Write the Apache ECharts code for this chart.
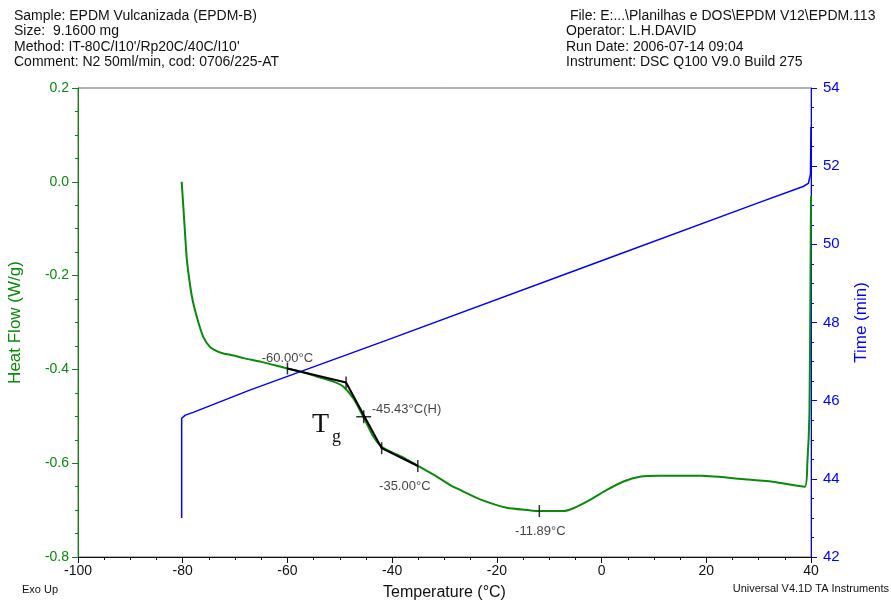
<!DOCTYPE html>
<html>
<head>
<meta charset="utf-8">
<script src="https://cdn.jsdelivr.net/npm/echarts@6/dist/echarts.min.js"></script>
<style>
  html, body { margin: 0; padding: 0; background: #fff; }
  #chart { width: 891px; height: 600px; }
</style>
</head>
<body>
<div id="chart"></div>
<script>
// temperature (°C) vs heat flow (W/g)
var heatFlow = [
  [-80.2, 0.0], [-79.9, -0.05], [-79.5, -0.12], [-79.2, -0.167], [-78.6, -0.22],
  [-78.0, -0.258], [-77.0, -0.300], [-76.1, -0.330], [-74.8, -0.352], [-73.5, -0.361],
  [-72.2, -0.366], [-70.0, -0.371], [-68.4, -0.376], [-65.0, -0.384], [-61.4, -0.394],
  [-60.0, -0.398], [-57.0, -0.406], [-54.4, -0.415], [-51.2, -0.426], [-49.3, -0.437],
  [-47.4, -0.462], [-45.5, -0.501], [-43.6, -0.543], [-42.0, -0.565], [-40.4, -0.575],
  [-38.0, -0.587], [-35.3, -0.604], [-32.0, -0.625], [-29.0, -0.646], [-27.0, -0.657],
  [-23.2, -0.677], [-18.1, -0.695], [-14.0, -0.700], [-11.8, -0.702], [-7.3, -0.702],
  [-5.4, -0.696], [-2.2, -0.678], [1.0, -0.657], [4.2, -0.639], [7.3, -0.629],
  [11.0, -0.627], [19.0, -0.627], [28.0, -0.635], [33.0, -0.640], [38.8, -0.650],
  [39.3, -0.600], [39.7, -0.493], [39.9, -0.209], [40.0, -0.030]
];
// temperature (°C) vs time (min)
var timeCurve = [
  [-80.2, 43.0], [-80.2, 45.55], [-79.5, 45.63], [-78.0, 45.70], [-67.2, 46.27],
  [-41.0, 47.55], [0.0, 49.58], [30.3, 51.08], [38.5, 51.48], [39.5, 51.56],
  [39.9, 51.8], [40.0, 53.0]
];
// glass transition construction
var tangentLine = [[-60.0, -0.398], [-48.8, -0.428], [-42.0, -0.568], [-35.1, -0.606]];
var tickMarks = [[-60.0, -0.398], [-48.8, -0.428], [-42.0, -0.568], [-35.1, -0.606], [-11.89, -0.702]];
var midPoint = [[-45.43, -0.501]];
var markLabels = [
  { value: [-60.0, -0.398], text: '-60.00°C', pos: 'top', off: [0, 1] },
  { value: [-45.43, -0.501], text: '-45.43°C(H)', pos: 'right', off: [3, -7] },
  { value: [-35.1, -0.606], text: '-35.00°C', pos: 'bottom', off: [-13, 9] },
  { value: [-11.89, -0.702], text: '-11.89°C', pos: 'bottom', off: [1, 9] }
];

var xTicks = { min: -100, max: 40, step: 20 };
var hfTicks = { min: -0.8, max: 0.2, step: 0.2 };
var timeTicks = { min: 42, max: 54, step: 2 };

var leftText = [
  'Sample: EPDM Vulcanizada (EPDM-B)',
  'Size:  9.1600 mg',
  "Method: IT-80C/I10'/Rp20C/40C/I10'",
  'Comment: N2 50ml/min, cod: 0706/225-AT'
];
var rightText = [
  ' File: E:...\\Planilhas e DOS\\EPDM V12\\EPDM.113',
  'Operator: L.H.DAVID',
  'Run Date: 2006-07-14 09:04',
  'Instrument: DSC Q100 V9.0 Build 275'
];

var GREEN = '#0a8a0a';
var BLUE = '#0000ff';
var FONT = 'Liberation Sans, Arial, sans-serif';

var myChart = echarts.init(document.getElementById('chart'));

var option = {
  backgroundColor: '#fff',
  animation: false,
  textStyle: { fontFamily: FONT },
  grid: {
    left: 78, right: 80, top: 88, bottom: 43, outerBoundsMode: 'none',
    show: true, borderColor: '#666', borderWidth: 1
  },
  graphic: [
    { type: 'text', left: 14, top: 8, style: { text: leftText.join('\n'), font: '14px ' + FONT, fill: '#111', lineHeight: 15.6 } },
    { type: 'text', left: 566, top: 8, style: { text: rightText.join('\n'), font: '14px ' + FONT, fill: '#111', lineHeight: 15.6 } },
    { type: 'text', left: 22, top: 584, style: { text: 'Exo Up', font: '11px ' + FONT, fill: '#111' } },
    { type: 'text', right: 2, top: 583, style: { text: 'Universal V4.1D TA Instruments', font: '11px ' + FONT, fill: '#111' } },
    { type: 'text', left: 312, top: 411, style: { text: 'T', font: '28px Liberation Serif, serif', fill: '#111' } },
    { type: 'text', left: 332, top: 428, style: { text: 'g', font: '18px Liberation Serif, serif', fill: '#111' } }
  ],
  xAxis: {
    type: 'value', min: xTicks.min, max: xTicks.max, interval: xTicks.step,
    name: 'Temperature (°C)', nameLocation: 'middle', nameGap: 28,
    nameTextStyle: { color: '#111', fontSize: 16 },
    axisLine: { onZero: false, lineStyle: { color: '#111', width: 1 } },
    axisTick: { show: true, length: 6, lineStyle: { color: '#111' } },
    minorTick: { show: true, splitNumber: 4, length: 3, lineStyle: { color: '#111' } },
    axisLabel: { color: '#111', fontSize: 14, margin: 7 },
    splitLine: { show: false }
  },
  yAxis: [
    {
      type: 'value', min: hfTicks.min, max: hfTicks.max, interval: hfTicks.step, position: 'left',
      name: 'Heat Flow (W/g)', nameLocation: 'middle', nameGap: 54, nameRotate: 90,
      nameTextStyle: { color: GREEN, fontSize: 17 },
      axisLine: { show: true, onZero: false, lineStyle: { color: GREEN, width: 1 } },
      axisTick: { show: true, length: 6, lineStyle: { color: GREEN } },
      minorTick: { show: true, splitNumber: 4, length: 3, lineStyle: { color: GREEN } },
      axisLabel: { color: GREEN, fontSize: 14, margin: 9, formatter: function (v) { return v.toFixed(1); } },
      splitLine: { show: false }
    },
    {
      type: 'value', min: timeTicks.min, max: timeTicks.max, interval: timeTicks.step, position: 'right',
      name: 'Time (min)', nameLocation: 'middle', nameGap: 42, nameRotate: 90,
      nameTextStyle: { color: BLUE, fontSize: 17 },
      axisLine: { show: true, onZero: false, lineStyle: { color: BLUE, width: 1 } },
      axisTick: { show: true, length: 6, lineStyle: { color: BLUE } },
      minorTick: { show: true, splitNumber: 4, length: 3, lineStyle: { color: BLUE } },
      axisLabel: { color: BLUE, fontSize: 15, margin: 12 },
      splitLine: { show: false }
    }
  ],
  series: [
    {
      name: 'Time', type: 'line', yAxisIndex: 1, data: timeCurve, showSymbol: false,
      lineStyle: { color: BLUE, width: 1.5 }, z: 2
    },
    {
      name: 'Heat Flow', type: 'line', yAxisIndex: 0, data: heatFlow, showSymbol: false, smooth: 0.2,
      lineStyle: { color: GREEN, width: 2 }, z: 3
    },
    {
      name: 'Tangents', type: 'line', yAxisIndex: 0, data: tangentLine, showSymbol: false,
      lineStyle: { color: '#000', width: 2 }, z: 4
    },
    {
      name: 'Ticks', type: 'scatter', yAxisIndex: 0, data: tickMarks,
      symbol: 'rect', symbolSize: [1.5, 12], itemStyle: { color: '#000' }, z: 5
    },
    {
      name: 'MidV', type: 'scatter', yAxisIndex: 0, data: midPoint,
      symbol: 'rect', symbolSize: [1.5, 13], itemStyle: { color: '#000' }, z: 5
    },
    {
      name: 'MidH', type: 'scatter', yAxisIndex: 0, data: midPoint,
      symbol: 'rect', symbolSize: [15, 1.5], itemStyle: { color: '#000' }, z: 5
    },
    {
      name: 'Labels', type: 'scatter', yAxisIndex: 0, symbolSize: 0, z: 6,
      data: markLabels.map(function (m) {
        return {
          value: m.value,
          label: { show: true, position: m.pos, offset: m.off, formatter: m.text, color: '#111', fontSize: 13 }
        };
      })
    }
  ]
};

myChart.setOption(option);
</script>
</body>
</html>
